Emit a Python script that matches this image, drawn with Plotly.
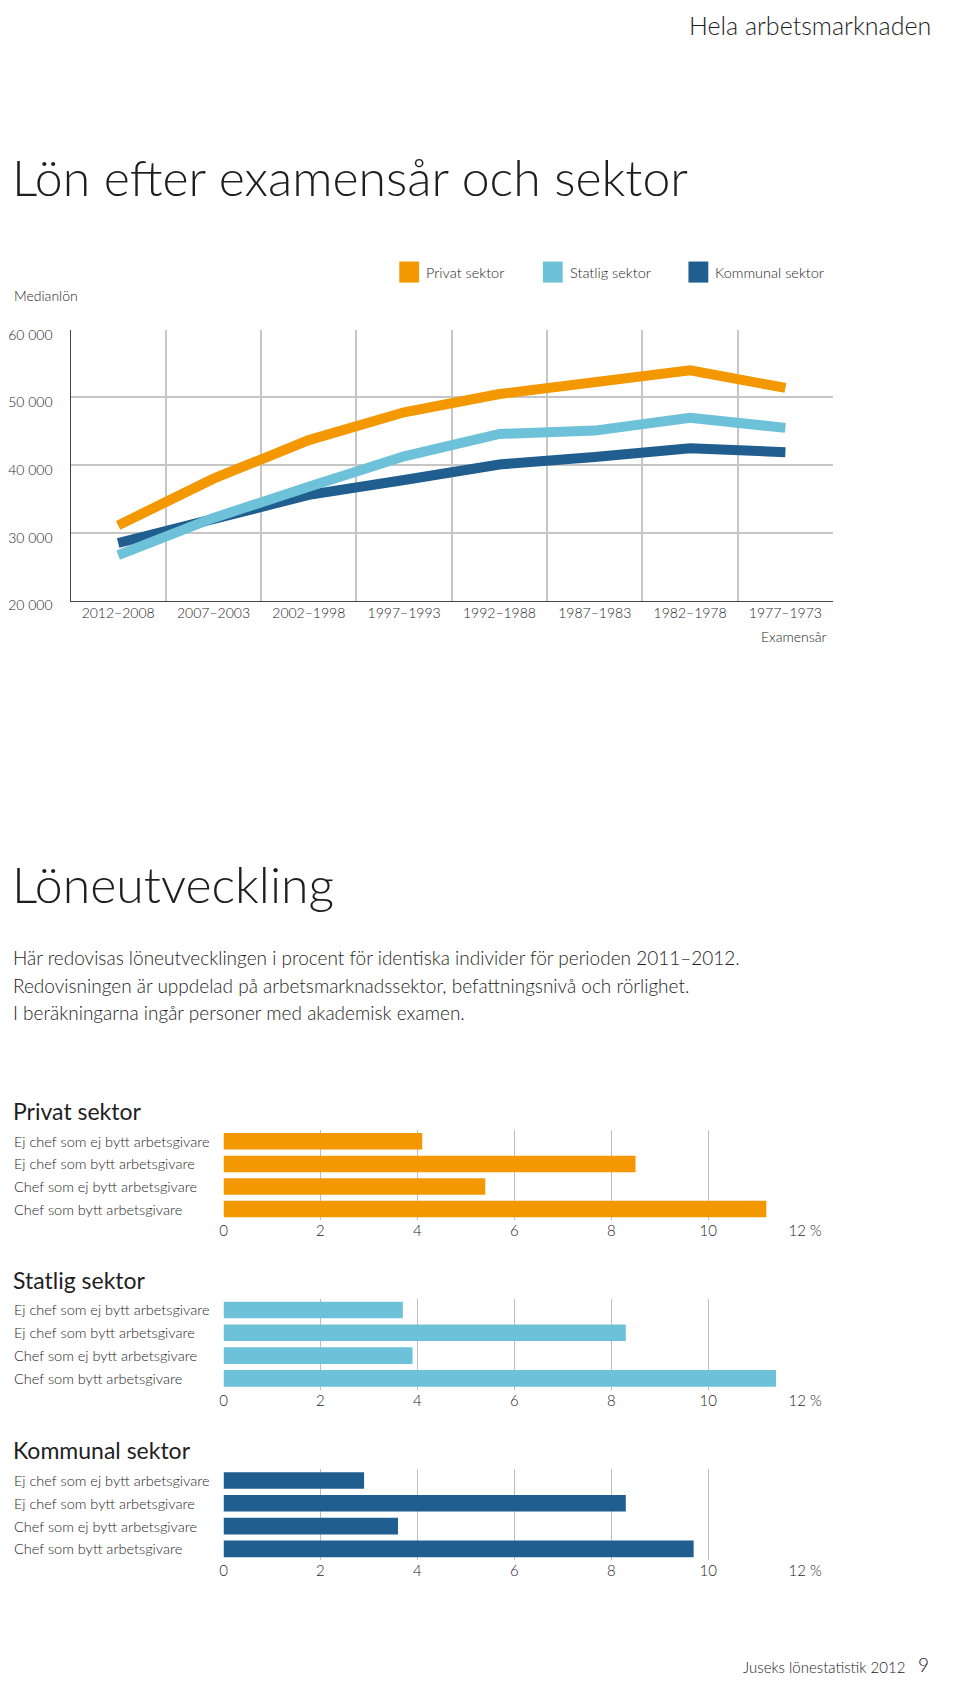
import plotly.graph_objects as go

# figure size (the page adds a body margin around it)
W, H = 944, 1683

# ---------------- data ----------------
periods = ["2012–2008", "2007–2003", "2002–1998", "1997–1993",
           "1992–1988", "1987–1983", "1982–1978", "1977–1973"]
privat = [31100, 38000, 43700, 47800, 50500, 52100, 54000, 51400]
statlig = [26700, 32200, 36800, 41300, 44600, 45100, 47000, 45500]
kommunal = [28500, 32100, 35600, 37800, 40100, 41200, 42500, 41900]

sector_names = ["Privat sektor", "Statlig sektor", "Kommunal sektor"]
sector_colors = ["#F39800", "#6DC1D9", "#1F5E8E"]

salary_ticks = [20000, 30000, 40000, 50000, 60000]
salary_ticktext = ["20 000", "30 000", "40 000", "50 000", "60 000"]

categories = ["Ej chef som ej bytt arbetsgivare", "Ej chef som bytt arbetsgivare",
              "Chef som ej bytt arbetsgivare", "Chef som bytt arbetsgivare"]
bar_privat = [4.1, 8.5, 5.4, 11.2]
bar_statlig = [3.7, 8.3, 3.9, 11.4]
bar_kommunal = [2.9, 8.3, 3.6, 9.7]

pct_ticks = [0, 2, 4, 6, 8, 10, 12]
pct_ticktext = ["0", "2", "4", "6", "8", "10", "12 %"]

paragraph = [
    "Här redovisas löneutvecklingen i procent för identiska individer för perioden 2011–2012.",
    "Redovisningen är uppdelad på arbetsmarknadssektor, befattningsnivå och rörlighet.",
    "I beräkningarna ingår personer med akademisk examen.",
]

# ---------------- helpers: target picture pixel -> paper fraction ----------------
AX, BX = 20.1, 0.967
AY, BY = 14.2, 0.987

def px_x(x):
    return ((x - AX) / BX) / W

def px_y(y):
    return 1 - ((y - AY) / BY) / H

FONT = "Lato"
TXT = "#1e1e1e"
GRID = "#C6C6C6"

fig = go.Figure()

# ---------------- line chart ----------------
line_series = [kommunal, statlig, privat]
line_order = [2, 1, 0]
for series, idx in zip(line_series, line_order):
    fig.add_trace(go.Scatter(
        x=periods, y=series, mode="lines", name=sector_names[idx],
        line=dict(color=sector_colors[idx], width=10),
        showlegend=False, xaxis="x", yaxis="y", hoverinfo="skip"))

# ---------------- bar charts ----------------
bar_sets = [bar_privat, bar_statlig, bar_kommunal]
bar_domains = [(1129, 1219), (1297, 1388), (1467, 1558)]
header_y = [1110, 1278, 1448]

for i, vals in enumerate(bar_sets):
    n = i + 2
    fig.add_trace(go.Bar(
        x=vals, y=categories, orientation="h",
        marker=dict(color=sector_colors[i], line=dict(width=0)),
        showlegend=False, xaxis=f"x{n}", yaxis=f"y{n}", hoverinfo="skip"))

layout = dict(
    width=W, height=H,
    margin=dict(l=0, r=0, t=0, b=0),
    paper_bgcolor="white", plot_bgcolor="white",
    font=dict(family=FONT, color=TXT, size=14, weight=300),
    bargap=0.27,
    xaxis=dict(
        domain=[px_x(60), px_x(830)], type="category", range=[-0.5, 7.5],
        tickson="boundaries", showgrid=True, gridcolor=GRID, gridwidth=1.5,
        showline=True, linecolor="#444444", linewidth=1.2, ticks="",
        tickfont=dict(size=14, color=TXT, family=FONT, weight=300),
        fixedrange=True, anchor="y"),
    yaxis=dict(
        domain=[px_y(601), px_y(331)], range=[20000, 60000],
        tickvals=salary_ticks, ticktext=salary_ticktext,
        showgrid=True, gridcolor=GRID, gridwidth=1.5, zeroline=False,
        showline=True, linecolor="#444444", linewidth=1.2, ticks="",
        ticklabelstandoff=14, ticklabelshift=5,
        tickfont=dict(size=14, color=TXT, family=FONT, weight=300),
        fixedrange=True, anchor="x"),
)

for i, dom in enumerate(bar_domains):
    n = i + 2
    layout[f"xaxis{n}"] = dict(
        domain=[px_x(214.5), px_x(801.8)], range=[0, 12],
        tickvals=pct_ticks, ticktext=pct_ticktext,
        showgrid=True, gridcolor="#BDBDBD", gridwidth=1, zeroline=False,
        showline=False, ticks="", anchor=f"y{n}",
        tickfont=dict(size=15, color=TXT, family=FONT, weight=300),
        fixedrange=True)
    layout[f"yaxis{n}"] = dict(
        domain=[px_y(dom[1]), px_y(dom[0])], type="category",
        range=[3.5, -0.5], showticklabels=False, showgrid=False,
        zeroline=False, showline=False, ticks="", anchor=f"x{n}",
        fixedrange=True)

fig.update_layout(**layout)

ann = []
shapes = []

def text(x, y, s, size, anchor="left", weight=300, yanchor="middle", color=TXT):
    ann.append(dict(x=x, y=y, xref="paper", yref="paper", text=s, showarrow=False,
                    xanchor=anchor, yanchor=yanchor,
                    font=dict(family=FONT, size=size, color=color, weight=weight)))

# page header / titles
text(px_x(931), px_y(27), "Hela arbetsmarknaden", 25, anchor="right")
text(px_x(-1), px_y(179), "Lön efter examensår och sektor", 50)
text(px_x(1), px_y(297), "Medianlön", 14)
text(px_x(825), px_y(637), "Examensår", 14, anchor="right")

# legend (squares + labels)
legend_x = [392, 537, 684]
for name, col, lx in zip(sector_names, sector_colors, legend_x):
    shapes.append(dict(type="rect", xref="paper", yref="paper",
                       x0=px_x(lx), x1=px_x(lx + 20), y0=px_y(284), y1=px_y(263),
                       fillcolor=col, line=dict(width=0)))
    text(px_x(lx + 25), px_y(273.5), name, 14.5)

# second section
text(px_x(-1), px_y(884), "Löneutveckling", 50)
for k, line in enumerate(paragraph):
    text(px_x(0), px_y(957 + 27.5 * k), line, 19)

for i, hy in enumerate(header_y):
    text(px_x(0), px_y(hy), sector_names[i], 23, weight=400)
    n = i + 2
    for cat in categories:
        ann.append(dict(x=px_x(1), y=cat, xref="paper", yref=f"y{n}", text=cat,
                        showarrow=False, xanchor="left", yanchor="middle",
                        font=dict(family=FONT, size=14.5, color=TXT, weight=300)))

# footer
text(px_x(905), px_y(1664), "Juseks lönestatistik 2012", 15, anchor="right")
text(px_x(929), px_y(1662), "9", 19, anchor="right")

fig.update_layout(annotations=ann, shapes=shapes)

fig.write_html("out.html")
